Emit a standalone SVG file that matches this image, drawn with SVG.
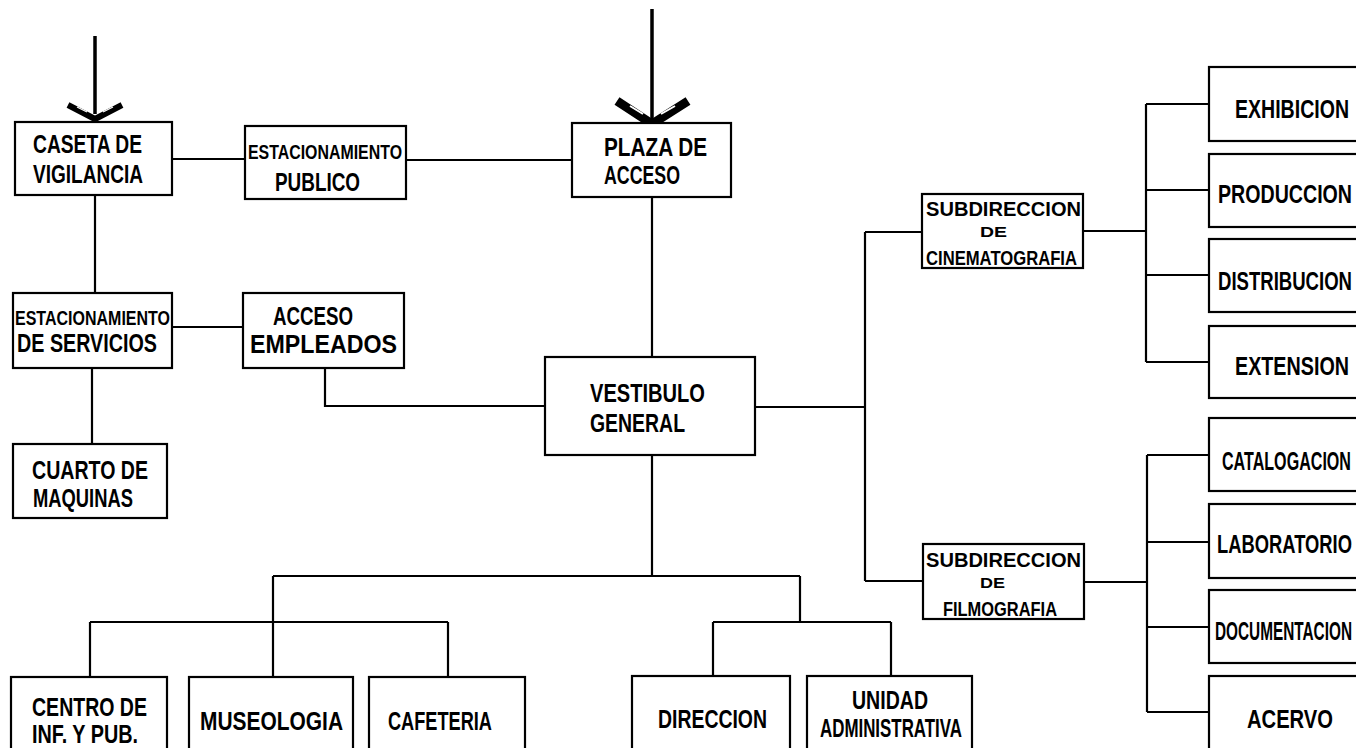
<svg xmlns="http://www.w3.org/2000/svg" width="1356" height="748" viewBox="0 0 1356 748">
<style>
.box{fill:#fff;stroke:#000;stroke-width:2.2}
.ln{fill:none;stroke:#000;stroke-width:2.2}
.shaft{fill:none;stroke:#000;stroke-width:3.5}
.t{font-family:"Liberation Sans",Arial,sans-serif;font-weight:bold;font-size:25px;fill:#000}
.s{font-size:21px}
.m{font-size:20px}
.d{font-size:15px}
</style>
<rect width="1356" height="748" fill="#fff"/>
<g id="connectors">
<path class="ln" d="M172,159 H245 M406,160 H572 M95,195 V293 M172,327 H243 M92,368 V444 M325,368 V406 H545 M652,197 V357"/>
<path class="ln" d="M652,455 V576 M273,576 H800 M273,576 V677 M90,622 H448 M90,622 V677 M448,622 V677 M800,576 V622 M713,622 H891 M713,622 V676 M891,622 V676"/>
<path class="ln" d="M755,407 H865 M865,232 V581 M865,232 H922 M865,581 H923"/>
<path class="ln" d="M1083,231 H1146 M1146,104 V362 M1146,104 H1209 M1146,190 H1209 M1146,275 H1209 M1146,362 H1209"/>
<path class="ln" d="M1084,582 H1147 M1147,455 V712 M1147,455 H1209 M1147,542 H1209 M1147,627 H1209 M1147,712 H1209"/>
<path class="shaft" d="M95,36 V114 M652,9 V120"/>
<path d="M68,105 L95,119 L122,105" fill="none" stroke="#000" stroke-width="6"/>
<path d="M77,107 L87,112 M113,107 L103,112" stroke="#fff" stroke-width="1.3"/>
<path d="M617,101 L652,124 L688,101" fill="none" stroke="#000" stroke-width="9"/>
<path d="M630,106 L643,114 M675,106 L661,114" stroke="#fff" stroke-width="2"/>
</g>
<g id="caseta"><rect class="box" x="15" y="122" width="157" height="73"/><text class="t" x="33" y="153" textLength="109" lengthAdjust="spacingAndGlyphs">CASETA DE</text><text class="t" x="33" y="183" textLength="110" lengthAdjust="spacingAndGlyphs">VIGILANCIA</text></g>
<g id="estac_publico"><rect class="box" x="245" y="126" width="161" height="73"/><text class="t s" x="248" y="159" textLength="154" lengthAdjust="spacingAndGlyphs">ESTACIONAMIENTO</text><text class="t" x="275" y="191" textLength="85" lengthAdjust="spacingAndGlyphs">PUBLICO</text></g>
<g id="plaza"><rect class="box" x="572" y="123" width="159" height="74"/><text class="t" x="604" y="156" textLength="103" lengthAdjust="spacingAndGlyphs">PLAZA DE</text><text class="t" x="604" y="184" textLength="76" lengthAdjust="spacingAndGlyphs">ACCESO</text></g>
<g id="estac_servicios"><rect class="box" x="13" y="293" width="159" height="75"/><text class="t s" x="15" y="325" textLength="155" lengthAdjust="spacingAndGlyphs">ESTACIONAMIENTO</text><text class="t" x="17" y="352" textLength="140" lengthAdjust="spacingAndGlyphs">DE SERVICIOS</text></g>
<g id="acceso_empleados"><rect class="box" x="243" y="293" width="161" height="75"/><text class="t" x="273" y="325" textLength="80" lengthAdjust="spacingAndGlyphs">ACCESO</text><text class="t" x="250" y="353" textLength="147" lengthAdjust="spacingAndGlyphs">EMPLEADOS</text></g>
<g id="cuarto"><rect class="box" x="13" y="444" width="154" height="74"/><text class="t" x="32" y="479" textLength="116" lengthAdjust="spacingAndGlyphs">CUARTO DE</text><text class="t" x="33" y="507" textLength="100" lengthAdjust="spacingAndGlyphs">MAQUINAS</text></g>
<g id="vestibulo"><rect class="box" x="545" y="357" width="210" height="98"/><text class="t" x="590" y="402" textLength="115" lengthAdjust="spacingAndGlyphs">VESTIBULO</text><text class="t" x="590" y="432" textLength="95" lengthAdjust="spacingAndGlyphs">GENERAL</text></g>
<g id="sub_cine"><rect class="box" x="922" y="194" width="161" height="74"/><text class="t m" x="926" y="216" textLength="155" lengthAdjust="spacingAndGlyphs">SUBDIRECCION</text><text class="t d" x="980" y="237" textLength="27" lengthAdjust="spacingAndGlyphs">DE</text><text class="t m" x="926" y="265" textLength="151" lengthAdjust="spacingAndGlyphs">CINEMATOGRAFIA</text></g>
<g id="sub_film"><rect class="box" x="923" y="544" width="161" height="75"/><text class="t m" x="926" y="567" textLength="155" lengthAdjust="spacingAndGlyphs">SUBDIRECCION</text><text class="t d" x="980" y="588" textLength="25" lengthAdjust="spacingAndGlyphs">DE</text><text class="t m" x="943" y="616" textLength="114" lengthAdjust="spacingAndGlyphs">FILMOGRAFIA</text></g>
<g id="exhibicion"><rect class="box" x="1209" y="67" width="170" height="74"/><text class="t" x="1235" y="118" textLength="114" lengthAdjust="spacingAndGlyphs">EXHIBICION</text></g>
<g id="produccion"><rect class="box" x="1209" y="154" width="170" height="73"/><text class="t" x="1218" y="203" textLength="134" lengthAdjust="spacingAndGlyphs">PRODUCCION</text></g>
<g id="distribucion"><rect class="box" x="1209" y="239" width="170" height="73"/><text class="t" x="1218" y="290" textLength="134" lengthAdjust="spacingAndGlyphs">DISTRIBUCION</text></g>
<g id="extension"><rect class="box" x="1209" y="326" width="170" height="72"/><text class="t" x="1235" y="375" textLength="114" lengthAdjust="spacingAndGlyphs">EXTENSION</text></g>
<g id="catalogacion"><rect class="box" x="1209" y="418" width="170" height="73"/><text class="t" x="1222" y="470" textLength="129" lengthAdjust="spacingAndGlyphs">CATALOGACION</text></g>
<g id="laboratorio"><rect class="box" x="1209" y="504" width="170" height="74"/><text class="t" x="1217" y="553" textLength="135" lengthAdjust="spacingAndGlyphs">LABORATORIO</text></g>
<g id="documentacion"><rect class="box" x="1209" y="590" width="170" height="73"/><text class="t" x="1215" y="640" textLength="137" lengthAdjust="spacingAndGlyphs">DOCUMENTACION</text></g>
<g id="acervo"><rect class="box" x="1209" y="676" width="170" height="90"/><text class="t" x="1247" y="728" textLength="86" lengthAdjust="spacingAndGlyphs">ACERVO</text></g>
<g id="centro"><rect class="box" x="11" y="677" width="156" height="90"/><text class="t" x="32" y="716" textLength="115" lengthAdjust="spacingAndGlyphs">CENTRO DE</text><text class="t" x="32" y="743" textLength="106" lengthAdjust="spacingAndGlyphs">INF. Y PUB.</text></g>
<g id="museologia"><rect class="box" x="189" y="677" width="164" height="90"/><text class="t" x="200" y="730" textLength="143" lengthAdjust="spacingAndGlyphs">MUSEOLOGIA</text></g>
<g id="cafeteria"><rect class="box" x="369" y="677" width="156" height="90"/><text class="t" x="388" y="730" textLength="104" lengthAdjust="spacingAndGlyphs">CAFETERIA</text></g>
<g id="direccion"><rect class="box" x="632" y="676" width="158" height="90"/><text class="t" x="658" y="728" textLength="109" lengthAdjust="spacingAndGlyphs">DIRECCION</text></g>
<g id="unidad"><rect class="box" x="807" y="676" width="165" height="90"/><text class="t" x="852" y="709" textLength="76" lengthAdjust="spacingAndGlyphs">UNIDAD</text><text class="t" x="820" y="737" textLength="142" lengthAdjust="spacingAndGlyphs">ADMINISTRATIVA</text></g>
</svg>
